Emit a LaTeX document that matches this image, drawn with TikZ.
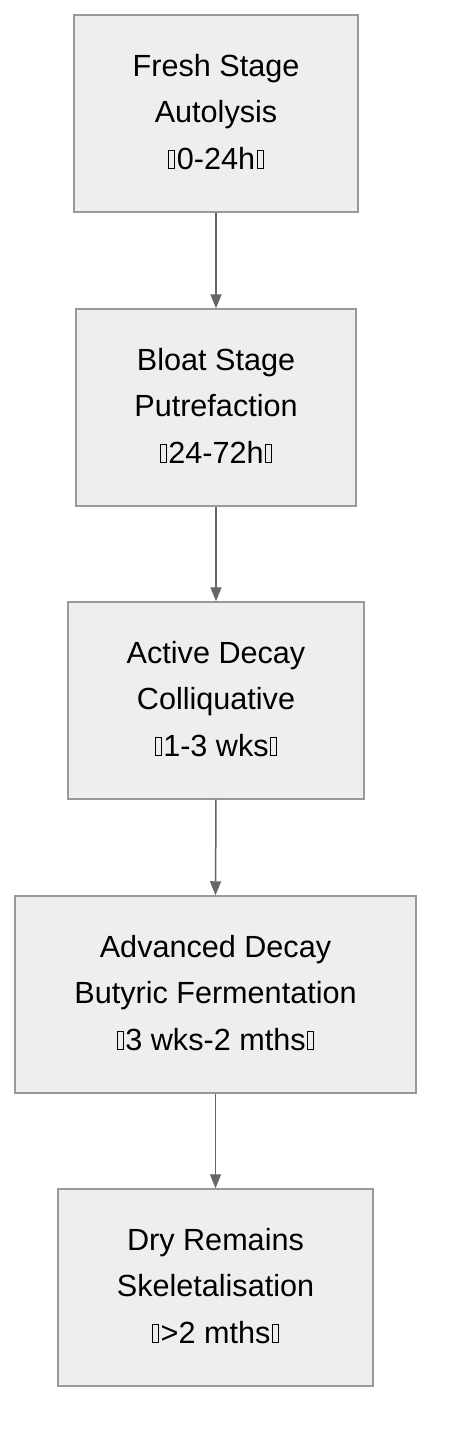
\documentclass[tikz,border=0pt]{standalone}
\usepackage{fontspec}
\setmainfont{Liberation Sans}
\usetikzlibrary{arrows.meta}
\definecolor{boxfill}{HTML}{EEEEEE}
\definecolor{boxline}{HTML}{999999}
\definecolor{arrowc}{HTML}{666666}
\newcommand{\tofubox}{\kern1.5pt\hbox{\vrule width0.9pt\vbox to 19pt{\hrule width5.2pt height0.9pt\vfil\hrule height0.9pt}\vrule width0.9pt}\kern1.5pt}
\tikzset{
  stagebox/.style={draw=boxline, fill=boxfill, line width=1.5pt, align=center,
    minimum height=197pt, inner sep=0pt, text depth=4pt,
    font=\fontsize{30.6pt}{46.5pt}\selectfont},
  flowarrow/.style={draw=arrowc, line width=1.5pt, -{Triangle[length=14pt,width=11pt]}}
}
\begin{document}
\begin{tikzpicture}[x=1pt,y=1pt]
\useasboundingbox (0,0) rectangle (448,-1452);
\node[stagebox, minimum width=284pt] (s1) at (216,-113.5) {Fresh Stage\\Autolysis\\\tofubox0-24h\tofubox};
\node[stagebox, minimum width=280pt] (s2) at (216,-407.5) {Bloat Stage\\Putrefaction\\\tofubox24-72h\tofubox};
\node[stagebox, minimum width=296pt] (s3) at (216,-700.5) {Active Decay\\Colliquative\\\tofubox1-3 wks\tofubox};
\node[stagebox, minimum width=401pt] (s4) at (215.5,-994.5) {Advanced Decay\\Butyric Fermentation\\\tofubox3 wks-2 mths\tofubox};
\node[stagebox, minimum width=315pt] (s5) at (215.5,-1287.5) {Dry Remains\\Skeletalisation\\\tofubox>2 mths\tofubox};
\draw[flowarrow] (s1.south) -- (s2.north);
\draw[flowarrow] (s2.south) -- (s3.north);
\draw[flowarrow] (s3.south) -- (s4.north);
\draw[flowarrow] (s4.south) -- (s5.north);
\end{tikzpicture}
\end{document}
